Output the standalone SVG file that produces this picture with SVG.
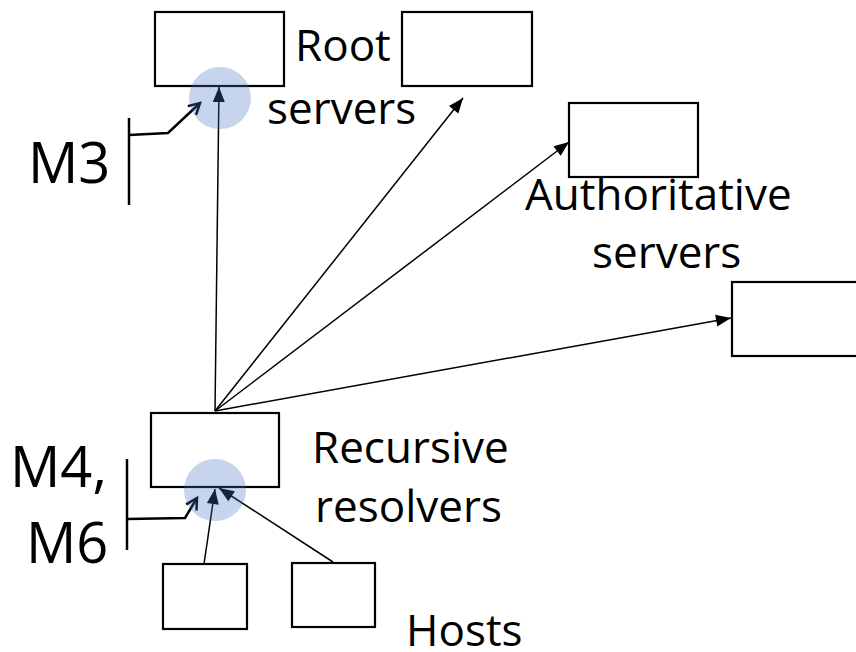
<svg xmlns="http://www.w3.org/2000/svg" width="856" height="652" viewBox="0 0 856 652">
<style>
.box{fill:#fff;stroke:#000;stroke-width:2.2}
.lbl{font-family:"Open Sans","Noto Sans","Liberation Sans",sans-serif;font-size:44px;fill:#000}
.big{font-family:"Open Sans","Noto Sans","Liberation Sans",sans-serif;font-size:56px;fill:#000}
.arr{fill:none;stroke:#000;stroke-width:1.5;marker-end:url(#tri)}
.mk{fill:none;stroke:#000;stroke-width:2.5}
.mc{fill:none;stroke:#000;stroke-width:2.5;stroke-linejoin:miter;marker-end:url(#vee)}
.hl{fill:#4472c4;fill-opacity:0.3}
</style>
<defs>
<marker id="tri" markerUnits="userSpaceOnUse" markerWidth="16" markerHeight="13" refX="15" refY="6" orient="auto" overflow="visible">
<path d="M0,0 L15,6 L0,12 z" fill="#000"/>
</marker>
<marker id="vee" markerUnits="userSpaceOnUse" markerWidth="14" markerHeight="14" refX="12" refY="6" orient="auto" overflow="visible">
<path d="M1,0 L12,6 L1,12" fill="none" stroke="#000" stroke-width="2.5"/>
</marker>
</defs>
<g id="root1"><rect class="box" x="155" y="12" width="129" height="74"/></g>
<g id="root2"><rect class="box" x="402" y="12" width="130" height="74"/></g>
<g id="root-label"><text class="lbl" x="295" y="61">Root</text><text class="lbl" x="267" y="124">servers</text></g>
<g id="auth1"><rect class="box" x="569" y="103" width="129" height="74"/></g>
<g id="auth2"><rect class="box" x="732" y="282" width="130" height="74"/></g>
<g id="auth-label"><text class="lbl" x="525" y="210">Authoritative</text><text class="lbl" x="592" y="268">servers</text></g>
<g id="resolver"><rect class="box" x="151" y="413" width="128" height="74"/></g>
<g id="resolver-label"><text class="lbl" x="312" y="463">Recursive</text><text class="lbl" x="315" y="522">resolvers</text></g>
<g id="host1"><rect class="box" x="163" y="564" width="84" height="65"/></g>
<g id="host2"><rect class="box" x="292" y="563" width="83" height="64"/></g>
<g id="hosts-label"><text class="lbl" x="406" y="646">Hosts</text></g>
<g id="m3"><text class="big" x="28" y="183">M3</text><line class="mk" x1="129" y1="118" x2="129" y2="205"/></g>
<g id="m46"><text class="big" x="10" y="487">M4,</text><text class="big" x="26" y="563">M6</text><line class="mk" x1="127" y1="459" x2="127" y2="550"/></g>
<g id="connectors">
<line class="arr" x1="215" y1="411" x2="219" y2="87"/>
<line class="arr" x1="215" y1="411" x2="463" y2="98"/>
<line class="arr" x1="215" y1="411" x2="569" y2="142"/>
<line class="arr" x1="215" y1="411" x2="731" y2="318"/>
<line class="arr" x1="204" y1="564" x2="215" y2="489"/>
<line class="arr" x1="333" y1="562" x2="219" y2="488"/>
<polyline class="mc" points="129,135 168,133 200,103"/>
<polyline class="mc" points="127,519 185,518 197,498"/>
</g>
<g id="highlights">
<circle class="hl" cx="220" cy="98" r="31"/>
<circle class="hl" cx="215" cy="490" r="31"/>
</g>
</svg>
